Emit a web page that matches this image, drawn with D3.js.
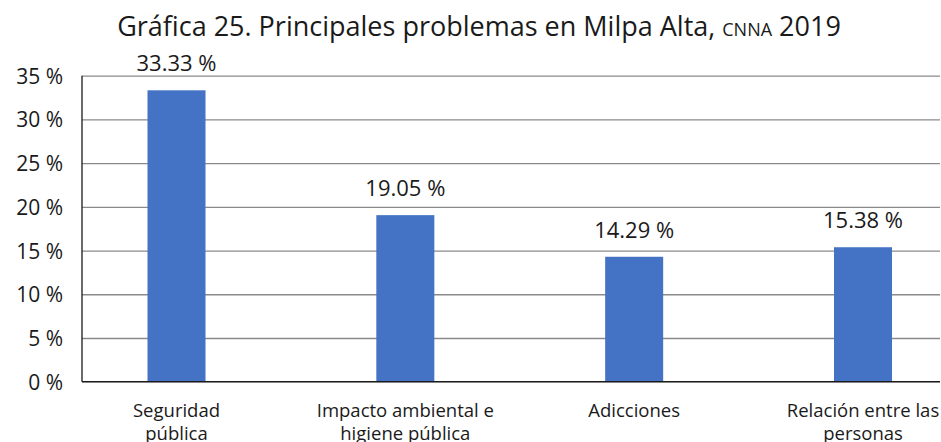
<!DOCTYPE html>
<html>
<head>
<meta charset="utf-8">
<script src="https://cdn.jsdelivr.net/npm/d3@7"></script>
<style>
  html, body { margin: 0; padding: 0; background: #fff; }
  svg { display: block; }
  text { font-family: "Open Sans", "Noto Sans", sans-serif; fill: #1a1a1a; }
</style>
</head>
<body>
<svg id="chart" width="941" height="442"></svg>
<script>
// Principales problemas en Milpa Alta (porcentaje)
const categories = [
  ["Seguridad", "pública"],
  ["Impacto ambiental e", "higiene pública"],
  ["Adicciones"],
  ["Relación entre las", "personas"]
];
const values = [33.33, 19.05, 14.29, 15.38];
const yTicks = [0, 5, 10, 15, 20, 25, 30, 35];

const svg = d3.select("#chart");
const plot = { left: 82, right: 940, top: 75.7, bottom: 381.7 };

const keys = categories.map(c => c.join(" "));
const x = d3.scalePoint().domain(keys).range([176.5, 863]);
const y = d3.scaleLinear().domain([0, 35]).range([plot.bottom, plot.top]);
const barW = 58;

// Title
const title = svg.append("text")
  .attr("x", 479).attr("y", 36)
  .attr("text-anchor", "middle")
  .style("font-size", "27px");
title.append("tspan").text("Gráfica 25. Principales problemas en Milpa Alta, ");
title.append("tspan").style("font-size", "18px").text("CNNA");
title.append("tspan").text(" 2019");

// Gridlines and tick labels
const yAxis = d3.axisLeft(y).tickValues(yTicks)
  .tickSize(-(plot.right - plot.left)).tickFormat(d => d + " %");
const gy = svg.append("g").attr("transform", `translate(${plot.left},0)`).call(yAxis);
gy.select(".domain").remove();
gy.selectAll(".tick line").attr("stroke", "#8a8a8a").attr("stroke-width", 1.3);
gy.selectAll(".tick text")
  .attr("x", -19).attr("dy", "0.36em")
  .style("font-size", "21px").style("fill", "#1a1a1a");

// Bars
svg.append("g").selectAll("rect").data(values).join("rect")
  .attr("x", (d, i) => x(keys[i]) - barW / 2)
  .attr("width", barW)
  .attr("y", d => y(d))
  .attr("height", d => y(0) - y(d))
  .attr("fill", "#4472C4");

// Axis lines
svg.append("line").attr("x1", plot.left).attr("x2", plot.left)
  .attr("y1", plot.top).attr("y2", plot.bottom)
  .attr("stroke", "#1a1a1a").attr("stroke-width", 1.3);
svg.append("line").attr("x1", plot.left).attr("x2", plot.right)
  .attr("y1", plot.bottom).attr("y2", plot.bottom)
  .attr("stroke", "#1a1a1a").attr("stroke-width", 1.3);

// Value labels
svg.append("g").selectAll("text").data(values).join("text")
  .attr("x", (d, i) => x(keys[i]))
  .attr("y", d => y(d) - 19)
  .attr("text-anchor", "middle")
  .style("font-size", "22px")
  .text(d => d.toFixed(2) + " %");

// Category labels
const cat = svg.append("g").selectAll("text").data(categories).join("text")
  .attr("x", (d, i) => x(keys[i]))
  .attr("y", 417)
  .attr("text-anchor", "middle")
  .style("font-size", "18.5px");
cat.selectAll("tspan").data(d => d).join("tspan")
  .attr("x", function () { return d3.select(this.parentNode).attr("x"); })
  .attr("dy", (d, i) => i === 0 ? 0 : 23)
  .text(d => d);
</script>
</body>
</html>
